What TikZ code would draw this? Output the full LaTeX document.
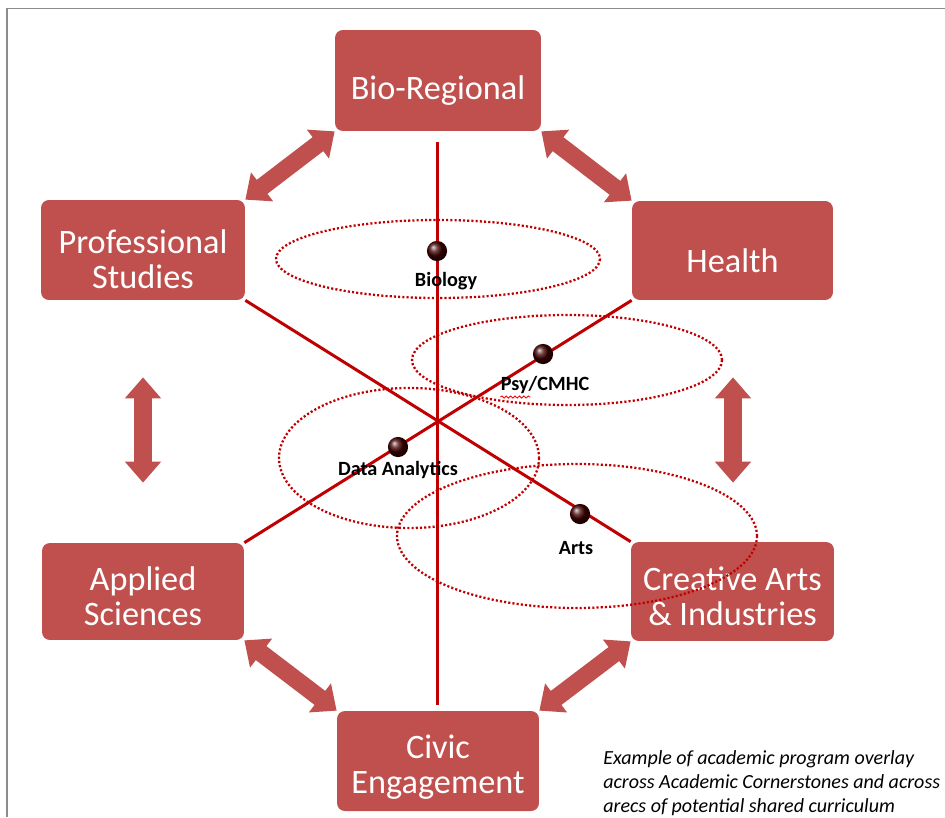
\documentclass[tikz,border=0pt]{standalone}
\usepackage{fontspec}
\setmainfont{Carlito}
\usetikzlibrary{arrows.meta,calc,decorations.pathmorphing}
\definecolor{boxred}{HTML}{C0504D}
\definecolor{linered}{HTML}{C00000}
\begin{document}
\begin{tikzpicture}[x=0.02cm,y=-0.02cm,
  cbox/.style={fill=boxred,draw=none,rounded corners=4.5pt,inner sep=0pt},
  btxt/.style={text=white,font=\fontsize{19.5}{20}\selectfont,align=center,inner sep=0pt},
  dbl/.style={draw=boxred,line width=10pt,{Triangle[width=20pt,length=12pt]}-{Triangle[width=20pt,length=12pt]}},
  xline/.style={draw=linered,line width=1.7pt},
  oval/.style={draw=linered,line width=1.3pt,dash pattern=on 1.2pt off 1.2pt},
  ddot/.style={circle,inner sep=0pt,minimum size=11.5pt,ball color=red!25!black,draw=none},
  dlab/.style={font=\bfseries\fontsize{11.5}{13}\selectfont,inner sep=0pt}]
\useasboundingbox (0,0) rectangle (945,817);
% frame
\draw[draw=gray!90,line width=1pt] (7,817) -- (7,8.5) -- (945,8.5);
% boxes
\node[cbox,minimum width=4.12cm,minimum height=2.02cm] (bio) at (438,80.5) {};
\node[cbox,minimum width=4.08cm,minimum height=2cm] (prof) at (143,250) {};
\node[cbox,minimum width=4.02cm,minimum height=1.98cm] (health) at (732.5,250.5) {};
\node[cbox,minimum width=4.04cm,minimum height=1.94cm] (appl) at (143,591.5) {};
\node[cbox,minimum width=4.06cm,minimum height=1.98cm] (crea) at (732.5,591.5) {};
\node[cbox,minimum width=4.04cm,minimum height=2cm] (civic) at (438,761) {};
\node[btxt] (tbio) at ($(bio.center)+(0,10)$) {Bio-Regional};
\node[btxt] (tprof) at ($(prof.center)+(0,9)$) {Professional\\Studies};
\node[btxt] (thealth) at ($(health.center)+(0,10)$) {Health};
\node[btxt] (tappl) at ($(appl.center)+(0,5)$) {Applied\\Sciences};
\node[btxt] (tcrea) at ($(crea.center)+(0,5)$) {Creative Arts\\\& Industries};
\node[btxt] (tcivic) at ($(civic.center)+(0,6)$) {Civic\\Engagement};
% block arrows
\draw[dbl] (prof.north east) -- (bio.south west);
\draw[dbl] (bio.south east) -- (health.north west);
\draw[dbl] ($(prof.south)+(0,77)$) coordinate (l1) -- ($(appl.north)+(0,-60)$) coordinate (l2);
\draw[dbl] ($(health.south)+(0.5,77)$) coordinate (r1) -- ($(crea.north)+(0.5,-59)$) coordinate (r2);
\draw[dbl] (appl.south east) -- (civic.north west);
\draw[dbl] (crea.south west) -- (civic.north east);
% crossing lines
\coordinate (vtop) at (437,142);
\coordinate (vbot) at (437,705);
\draw[xline] (vtop) -- (vbot);
\draw[xline] (prof.south east) -- (crea.north west);
\draw[xline] (appl.north east) -- (health.south west);
% ellipses
\draw[oval] (438,259) ellipse [x radius=162, y radius=39];
\draw[oval] (567,360) ellipse [x radius=155, y radius=45];
\draw[oval] (409,458) ellipse [x radius=130, y radius=70];
\draw[oval] (577,536) ellipse [x radius=180, y radius=72];
% dots and labels
\node[ddot] (d1) at (437,251) {};
\node[ddot] (d2) at (543,354) {};
\node[ddot] (d3) at (398,447) {};
\node[ddot] (d4) at (580,514) {};
\node[dlab] (l1t) at (446,281) {Biology};
\node[dlab] (l2t) at (545,385) {Psy/CMHC};
\node[dlab] (l3t) at (398,470) {Data Analytics};
\node[dlab] (l4t) at (576,548) {Arts};
\draw[red,line width=0.5pt,decorate,decoration={snake,amplitude=0.6pt,segment length=2.5pt}] ($(l2t.south west)+(0,3)$) -- ($(l2t.south west)+(30,3)$);
% caption
\node[anchor=north west,align=left,font=\itshape\fontsize{11.4}{13.6}\selectfont,inner sep=0pt] (cap) at (603,750) {Example of academic program overlay\\across Academic Cornerstones and across\\arecs of potential shared curriculum};
\end{tikzpicture}
\end{document}
